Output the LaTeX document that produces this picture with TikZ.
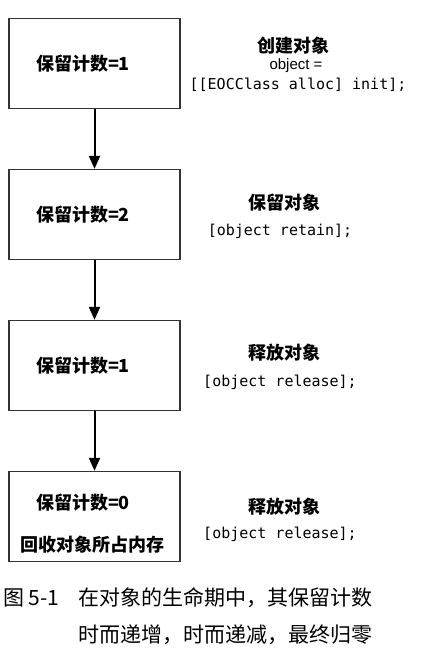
\documentclass[tikz,border=0pt]{standalone}
\usepackage{fontspec}
\newfontfamily\cjk{Noto Sans CJK SC}
\newfontfamily\code{DejaVu Sans Mono}
\newfontfamily\plain{Liberation Sans}
\usetikzlibrary{arrows.meta,positioning}

\begin{document}
\begin{tikzpicture}[x=1pt,y=-1pt,node distance=151pt,
                    count box/.style={rectangle,draw=black!80,line width=1.3pt,text width=117pt,inner xsep=27pt,
                                      minimum height=90pt,align=left,font=\cjk\bfseries\fontsize{18pt}{21pt}\selectfont},
                    stage title/.style={font=\cjk\bfseries\fontsize{18pt}{21pt}\selectfont},
                    stage code/.style={font=\code\fontsize{15pt}{18pt}\selectfont},
                    flow/.style={-{Triangle[length=13pt,width=11pt]},line width=2pt}]
  \useasboundingbox (0,0) rectangle (426,655);

  %boxes%
  \node[count box] (c1) at (94.5,63.5) {保留计数=1};
  \node[count box] (c2) [below of=c1] {保留计数=2};
  \node[count box] (c3) [below of=c2] {保留计数=1};
  \node[count box] (c4) [below of=c3] {\rule{0pt}{30pt}保留计数=0\\[21pt]\hspace*{-16pt}回收对象所占内存};

  \draw[flow] (c1) -- (c2);
  \draw[flow] (c2) -- (c3);
  \draw[flow] (c3) -- (c4);

  %messages%
  \node[stage title] (t1) at (293,46) {创建对象};
  \node[font=\plain\fontsize{15pt}{18pt}\selectfont] (o1) at (296,66) {object =};
  \node[stage code] (m1) at (298,85) {[[EOCClass alloc] init];};
  \node[stage title] (t2) at (284,203) {保留对象};
  \node[stage code] (m2) at (280,231) {[object retain];};
  \node[stage title] (t3) at (284,353) {释放对象};
  \node[stage code] (m3) at (280,382) {[object release];};
  \node[stage title] (t4) at (284,507) {释放对象};
  \node[stage code] (m4) at (280,534) {[object release];};

  %caption%
  \node[anchor=west,inner sep=0pt,font=\cjk\fontsize{21pt}{25pt}\selectfont] (fig) at (3,598) {图 5-1};
  \node[anchor=west,inner sep=0pt,align=left,font=\cjk\fontsize{21pt}{37pt}\selectfont] (cap) at (78,616.5)
    {在对象的生命期中，其保留计数\\时而递增，时而递减，最终归零};
\end{tikzpicture}
\end{document}
